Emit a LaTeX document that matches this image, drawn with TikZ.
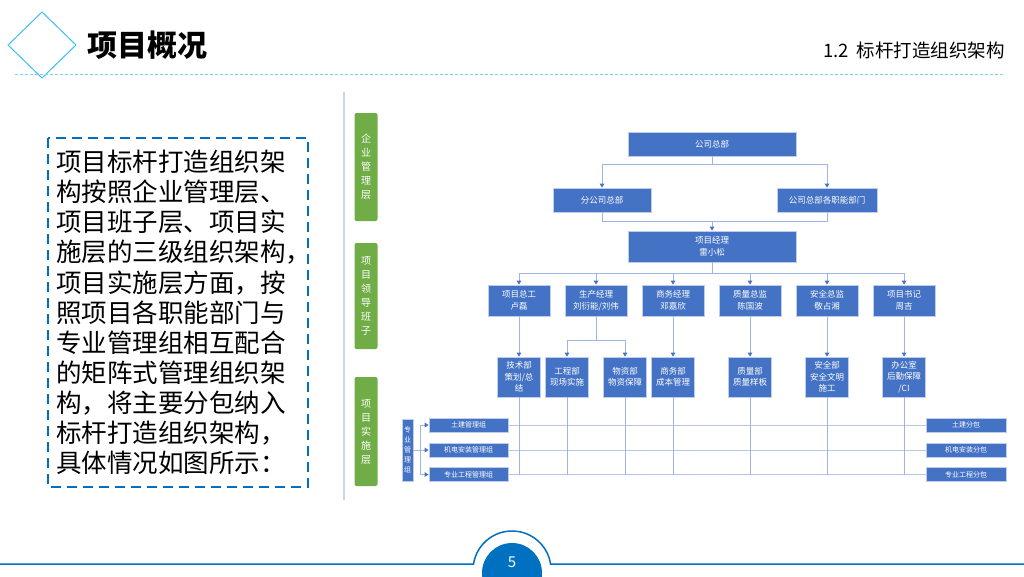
\documentclass[tikz,border=0pt]{standalone}
\usepackage{fontspec}
\setmainfont{Noto Sans CJK SC}
\usetikzlibrary{arrows.meta}
\definecolor{orgblue}{HTML}{4472C4}
\definecolor{linkblue}{HTML}{9DB5E0}
\definecolor{gridblue}{HTML}{B4C7E7}
\definecolor{barg}{HTML}{70AD47}
\definecolor{deepblue}{HTML}{0070C0}
\definecolor{skyline}{HTML}{3CC0F0}
\definecolor{sepblue}{HTML}{C5D9F1}
\begin{document}
\begin{tikzpicture}[x=1pt, y=-1pt, every node/.style={inner sep=0pt, font=\fontsize{8.5}{12}\selectfont},
  org/.style={draw=white!65!orgblue, line width=0.8pt, fill=orgblue, text=white, align=center},
  grp/.style={org, minimum width=79pt, minimum height=14pt, font=\fontsize{7}{9}\selectfont},
  bar/.style={fill=barg, rounded corners=2pt, minimum width=23pt, text=white, align=center, font=\fontsize{10}{14}\selectfont},
  link/.style={linkblue, line width=0.9pt},
  tri/.style={-{Triangle[length=4pt, width=4.5pt, color=orgblue]}},
  gridline/.style={gridblue, line width=0.9pt}]
\useasboundingbox (0,0) rectangle (1024,576);
\fill[white] (0,0) rectangle (1024,576);
% header
\draw[skyline, line width=1pt] (8,45) -- (42,12) -- (76,45) -- (42,78) -- cycle;
\draw[skyline!70, line width=0.8pt, dash pattern=on 3pt off 2pt] (15,74) -- (1005,74);
\node[anchor=west, font=\fontsize{30}{32}\selectfont\bfseries] (title) at (87,45) {项目概况};
\node[anchor=east, font=\fontsize{18.5}{20}\selectfont] (sub) at (1005,50) {1.2\hspace{8pt}标杆打造组织架构};
% description
\draw[deepblue, line width=2.5pt, dash pattern=on 10pt off 6pt] (48,138) rectangle (308,487);
\node[anchor=north west, align=left, font=\fontsize{25.5}{30.1}\selectfont] (desc) at (56,150)
  {项目标杆打造组织架\\构按照企业管理层、\\项目班子层、项目实\\施层的三级组织架构，\\项目实施层方面，按\\照项目各职能部门与\\专业管理组相互配合\\的矩阵式管理组织架\\构，将主要分包纳入\\标杆打造组织架构，\\具体情况如图所示：};
\draw[sepblue, line width=2pt] (344,92) -- (344,500);
% layers
\node[bar, minimum height=108pt] (mgmt) at (366,167) {企\\业\\管\\理\\层};
\node[bar, minimum height=106pt] (lead) at (366,296) {项\\目\\领\\导\\班\\子};
\node[bar, minimum height=109pt] (site) at (366,431.5) {项\\目\\实\\施\\层};
% company level
\node[org, minimum width=168pt, minimum height=24pt] (hq) at (712,144) {公司总部};
\node[org, minimum width=98pt, minimum height=24pt] (branch) at (602,200) {分公司总部};
\node[org, minimum width=100pt, minimum height=24pt] (func) at (827,200) {公司总部各职能部门};
\node[org, minimum width=168pt, minimum height=31pt] (pm) at (712,246.5) {项目经理\\雷小松};
\coordinate (b1) at (712,164);
\coordinate (b2) at (712,221);
\draw[link] (hq.south) -- (b1);
\draw[link, tri] (b1) -| (branch.north);
\draw[link, tri] (b1) -| (func.north);
\draw[link] (branch.south) |- (b2);
\draw[link] (func.south) |- (b2);
\draw[link, tri] (b2) -- (pm.north);
% leaders
\tikzset{lead3/.style={org, minimum width=62pt, minimum height=31pt}}
\node[lead3] (chief) at (519,300.5) {项目总工\\卢磊};
\node[lead3] (prod) at (596,300.5) {生产经理\\刘衍能/刘伟};
\node[lead3] (biz) at (673,300.5) {商务经理\\邓嘉欣};
\node[lead3] (qual) at (750,300.5) {质量总监\\陈国波};
\node[lead3] (safe) at (827,300.5) {安全总监\\敬占湘};
\node[lead3] (party) at (904,300.5) {项目书记\\周吉};
\coordinate (b3) at (712,273);
\draw[link] (pm.south) -- (b3);
\draw[link] (chief.north |- b3) -- (party.north |- b3);
\foreach \n in {chief,prod,biz,qual,safe,party}
  \draw[link, tri] (\n.north |- b3) -- (\n.north);
% departments
\tikzset{dept/.style={org, minimum width=43pt, minimum height=40pt, font=\fontsize{8.5}{11.5}\selectfont}}
\node[dept] (tech) at (519,377) {技术部\\策划/总\\结};
\node[dept] (eng) at (567,377) {工程部\\现场实施};
\node[dept] (mat) at (625,377) {物资部\\物资保障};
\node[dept] (cost) at (673,377) {商务部\\成本管理};
\node[dept] (qdep) at (750,377) {质量部\\质量样板};
\node[dept] (sdep) at (827,377) {安全部\\安全文明\\施工};
\node[dept] (office) at (904,377) {办公室\\后勤保障\\/CI};
\draw[link, tri] (chief.south) -- (tech.north);
\draw[link, tri] (biz.south) -- (cost.north);
\draw[link, tri] (qual.south) -- (qdep.north);
\draw[link, tri] (safe.south) -- (sdep.north);
\draw[link, tri] (party.south) -- (office.north);
\coordinate (b4) at (596,340);
\draw[link] (prod.south) -- (b4);
\draw[link] (eng.north |- b4) -- (mat.north |- b4);
\draw[link, tri] (eng.north |- b4) -- (eng.north);
\draw[link, tri] (mat.north |- b4) -- (mat.north);
% specialist groups
\node[org, minimum width=11pt, minimum height=62pt, font=\fontsize{7}{10}\selectfont] (team) at (407.5,450) {专\\业\\管\\理\\组};
\node[grp] (civil) at (468.5,425) {土建管理组};
\node[grp] (mep) at (468.5,450) {机电安装管理组};
\node[grp] (spec) at (468.5,474.5) {专业工程管理组};
\node[grp, minimum width=80pt] (civsub) at (966,425) {土建分包};
\node[grp, minimum width=80pt] (mepsub) at (966,450) {机电安装分包};
\node[grp, minimum width=80pt] (specsub) at (966,474.5) {专业工程分包};
\coordinate (tj) at (420,450);
\draw[link] (team.east) -- (tj);
\draw[link] (tj |- civil) -- (tj |- spec);
\draw[link, tri] (tj |- civil) -- (civil.west);
\draw[link, tri] (tj) -- (mep.west);
\draw[link, tri] (tj |- spec) -- (spec.west);
\draw[gridline] (civil.east) -- (civsub.west);
\draw[gridline] (mep.east) -- (mepsub.west);
\draw[gridline] (spec.east) -- (specsub.west);
\foreach \n in {tech,eng,mat,cost,qdep,sdep,office}
  \draw[link] (\n.south) -- (\n.south |- spec);
% page footer
\draw[deepblue, line width=1.5pt] (0,564) -- (473.5,564) arc[start angle=171.15, end angle=8.85, radius=39pt] -- (1024,564);
\begin{scope}
\clip (0,0) rectangle (1024,576);
\fill[deepblue] (512,573) circle[radius=30pt];
\end{scope}
\node[text=white, font=\fontsize{15}{16}\selectfont] (page) at (512,562) {5};
\end{tikzpicture}
\end{document}
